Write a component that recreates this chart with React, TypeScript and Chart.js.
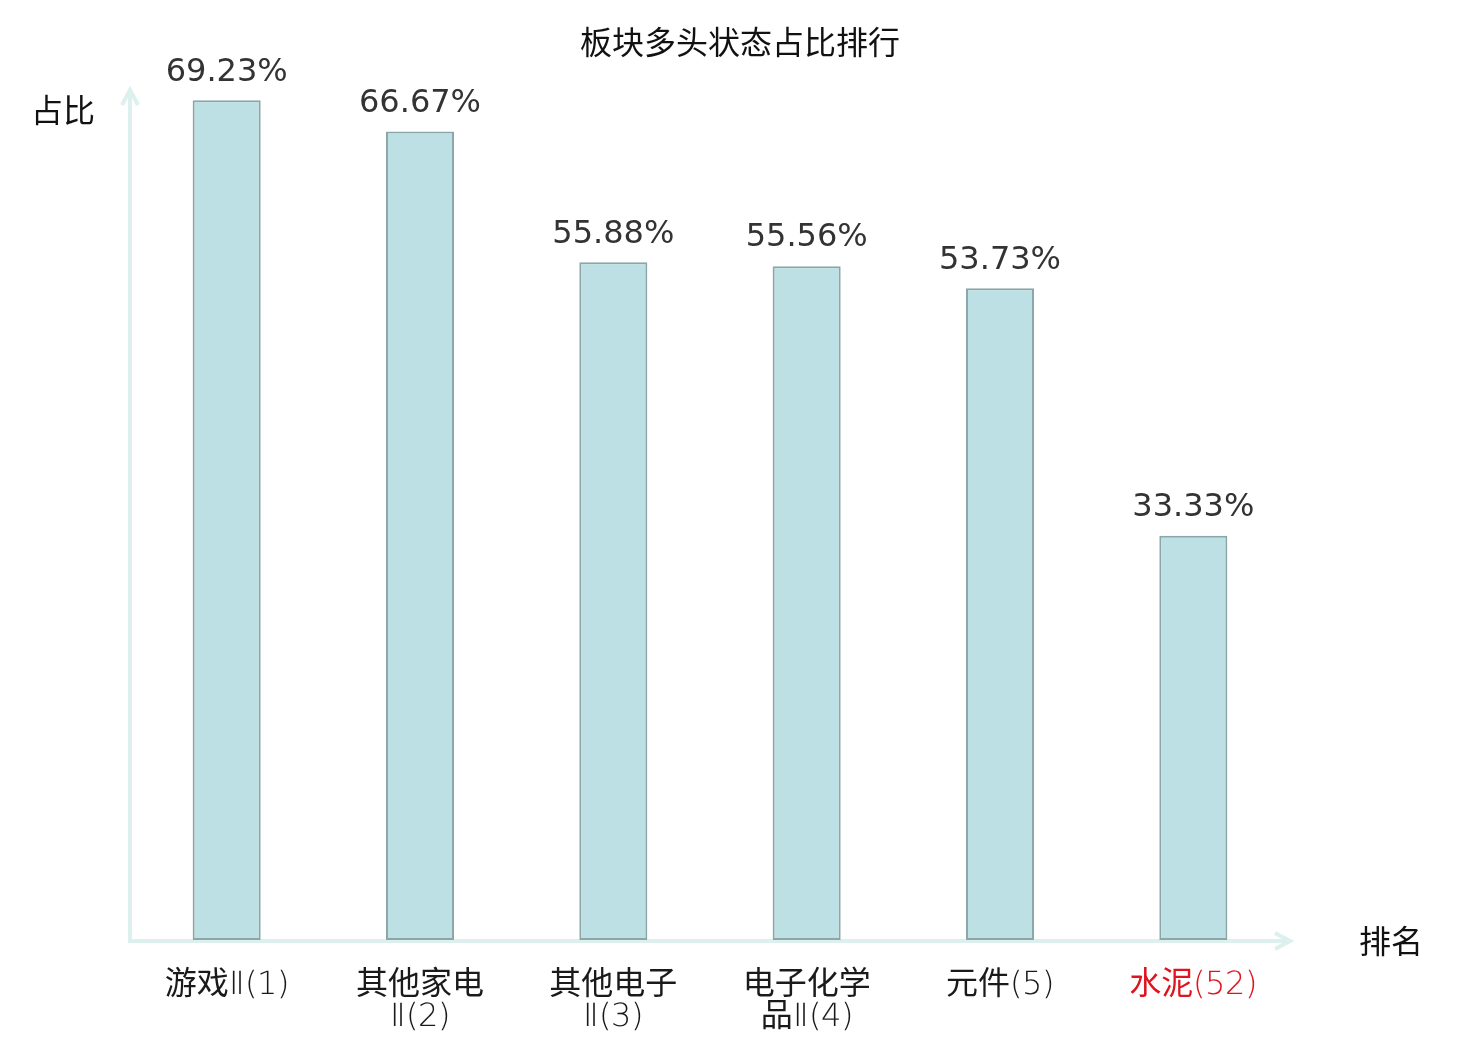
import React, { useEffect, useRef } from "react";
import { Chart, registerables } from "chart.js";

Chart.register(...registerables);

const title = "板块多头状态占比排行";
const categories: string[][] = [
  ["游戏Ⅱ(1)"],
  ["其他家电", "Ⅱ(2)"],
  ["其他电子", "Ⅱ(3)"],
  ["电子化学", "品Ⅱ(4)"],
  ["元件(5)"],
  ["水泥(52)"],
];
const values: number[] = [69.23, 66.67, 55.88, 55.56, 53.73, 33.33];
const highlightIndex = 5;
const yAxisName = "占比";
const xAxisName = "排名";

const CJK = "'Noto Sans CJK SC', sans-serif";
const LATIN = "'DejaVu Sans', 'Noto Sans CJK SC', sans-serif";
const TICK_FAMILY = "'MixLatinLight', 'Noto Sans CJK SC', sans-serif";
const AXIS_COLOR = "#dcf0ee";

const decorPlugin = {
  id: "decor",
  beforeDatasetsDraw(chart: any) {
    const { ctx, chartArea } = chart;
    const { left, right, top, bottom } = chartArea;
    ctx.save();
    ctx.strokeStyle = AXIS_COLOR;
    ctx.lineWidth = 4;
    ctx.lineCap = "butt";
    ctx.beginPath();
    ctx.moveTo(left, bottom + 3);
    ctx.lineTo(left, top - 1);
    ctx.stroke();
    ctx.beginPath();
    ctx.moveTo(left - 8, top + 14);
    ctx.lineTo(left, top - 1);
    ctx.lineTo(left + 8, top + 14);
    ctx.stroke();
    ctx.beginPath();
    ctx.moveTo(left - 2, bottom + 1);
    ctx.lineTo(right, bottom + 1);
    ctx.stroke();
    ctx.beginPath();
    ctx.moveTo(right - 15, bottom - 7);
    ctx.lineTo(right, bottom + 1);
    ctx.lineTo(right - 15, bottom + 9);
    ctx.stroke();
    ctx.restore();
  },
  afterDatasetsDraw(chart: any) {
    const { ctx, chartArea } = chart;
    const meta = chart.getDatasetMeta(0);
    ctx.save();
    ctx.fillStyle = "#333333";
    ctx.font = `32px ${LATIN}`;
    ctx.textAlign = "center";
    ctx.textBaseline = "middle";
    meta.data.forEach((bar: any, i: number) => {
      ctx.fillText(values[i].toFixed(2) + "%", bar.x, bar.y - 28);
    });
    ctx.fillStyle = "#111111";
    ctx.font = `32px ${CJK}`;
    ctx.fillText(title, chart.width / 2, 42);
    ctx.fillText(yAxisName, 63, 110);
    ctx.fillText(xAxisName, 1391, chartArea.bottom + 1);
    ctx.restore();
  },
};

export default function App() {
  const ref = useRef<HTMLCanvasElement | null>(null);
  useEffect(() => {
    document.body.style.margin = "0";
    const style = document.createElement("style");
    style.textContent =
      "@font-face{font-family:'MixLatinLight';src:local('DejaVu Sans ExtraLight'),local('DejaVuSans-ExtraLight');}";
    document.head.appendChild(style);
    let chart: Chart | null = null;
    let cancelled = false;
    const build = () => {
      if (cancelled || !ref.current) return;
      chart = new Chart(ref.current, {
        type: "bar",
        data: {
          labels: categories,
          datasets: [
            {
              data: values,
              backgroundColor: "#bce0e3",
              borderColor: "#8ca6a8",
              borderWidth: 2,
              borderSkipped: false,
              barPercentage: 0.352,
              categoryPercentage: 1,
            },
          ],
        },
        options: {
          responsive: false,
          animation: false,
          devicePixelRatio: 1,
          layout: { padding: { left: 130, right: 190, top: 91, bottom: 0 } },
          plugins: {
            legend: { display: false },
            tooltip: { enabled: false },
            title: { display: false },
          },
          scales: {
            x: {
              offset: true,
              grid: { display: false, drawTicks: false },
              border: { display: false },
              ticks: {
                padding: 30,
                autoSkip: false,
                maxRotation: 0,
                minRotation: 0,
                color: (c: any) => (c.index === highlightIndex ? "#e0141e" : "#1a1a1a"),
                font: { family: TICK_FAMILY, size: 32, weight: "normal", lineHeight: 1.0 },
              },
              afterFit: (scale: any) => {
                scale.height = 100;
              },
            },
            y: { display: false, min: 0, max: 70 },
          },
        },
        plugins: [decorPlugin],
      });
    };
    (document as any).fonts
      .load("32px MixLatinLight")
      .catch(() => null)
      .then(() => build());
    return () => {
      cancelled = true;
      if (chart) chart.destroy();
      style.remove();
    };
  }, []);
  return (
    <div style={{ width: 1480, height: 1040 }}>
      <canvas ref={ref} width={1480} height={1040} style={{ display: "block" }} />
    </div>
  );
}
